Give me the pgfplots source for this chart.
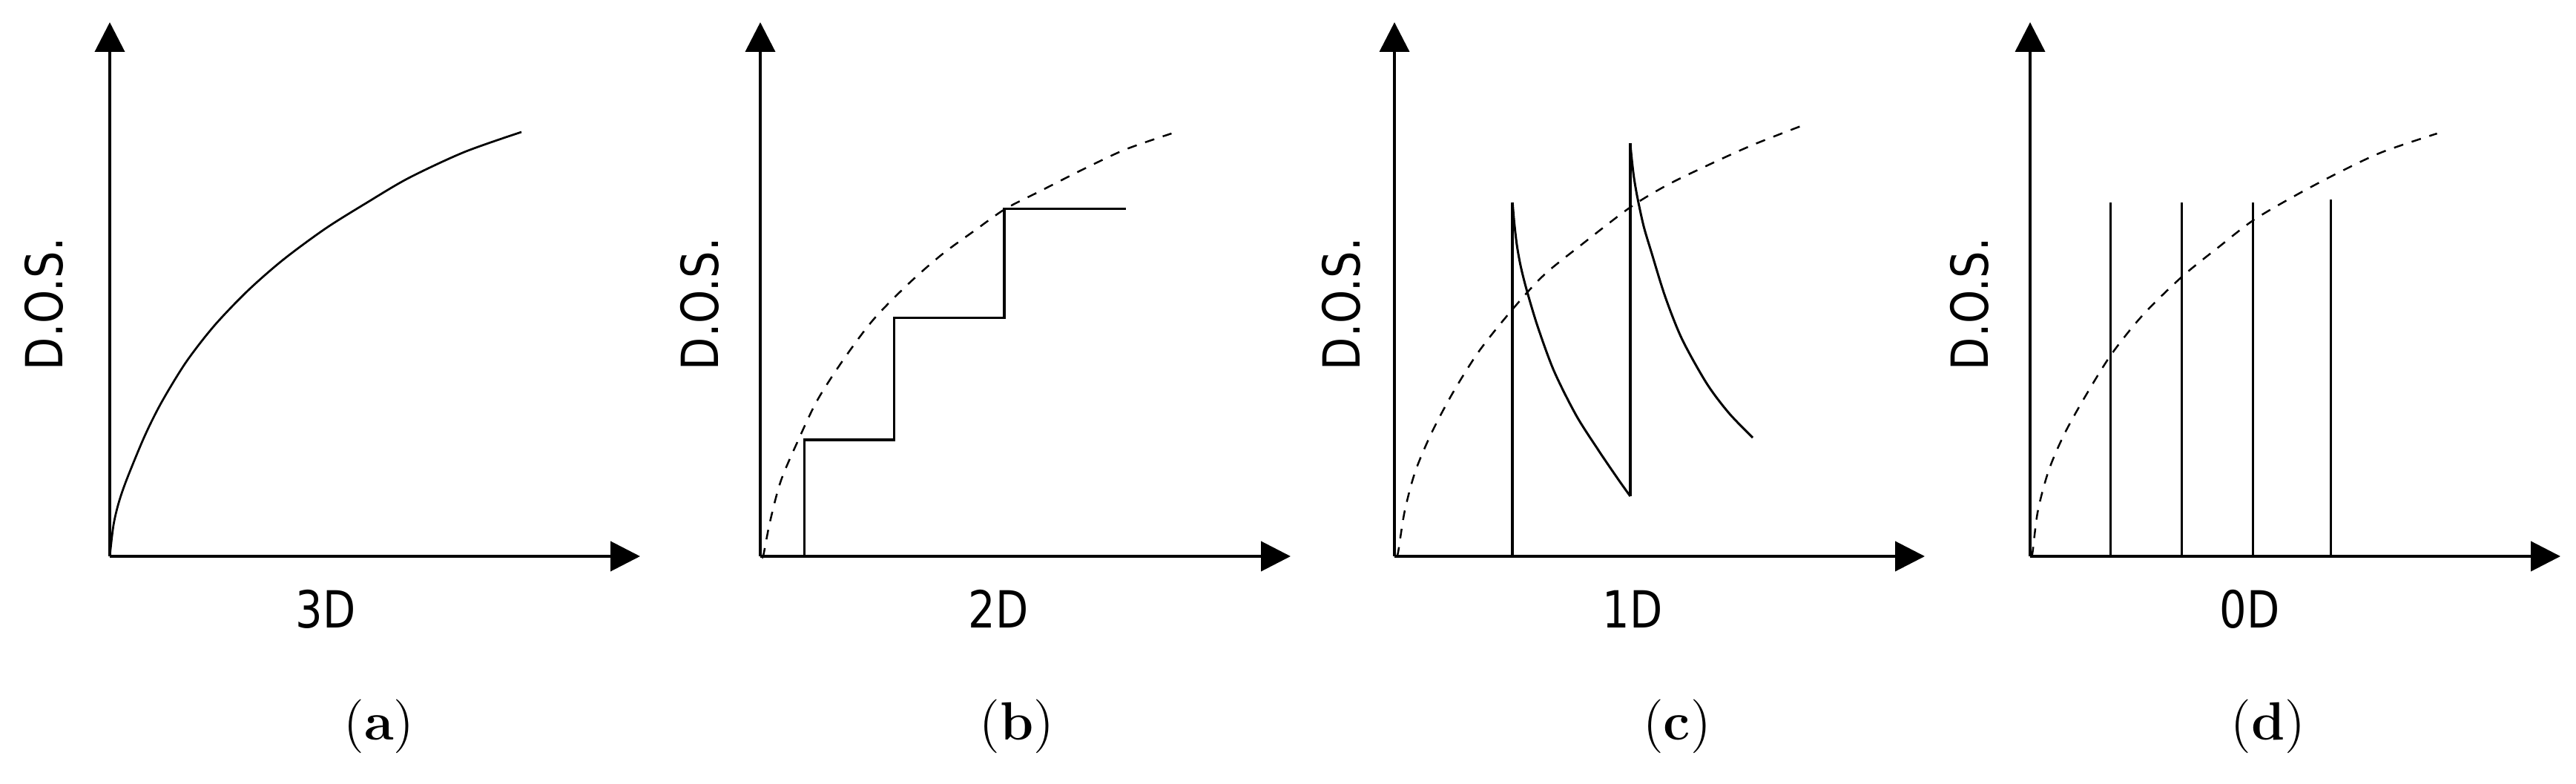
\documentclass[border=0pt]{standalone}
\usepackage{pgfplots}
\pgfplotsset{compat=1.18}
\usetikzlibrary{arrows.meta}
\usepackage{fontspec}
\newfontfamily\dejavu{DejaVu Sans}
\newcommand{\lt}[1]{\scalebox{1}[1.2]{#1}}
\begin{document}
\begin{tikzpicture}
\useasboundingbox (0,0) rectangle (694.6pt,211.2pt);
\pgfplotsset{
  dos/.style={
    x=0.2pt, y=0.2pt, xmin=0, xmax=715, ymin=0, ymax=720,
    axis lines=left, ticks=none, clip=false, anchor=origin,
    axis line style={line width=0.8pt, -{Triangle[length=8pt,width=8pt]}},
  },
}
\tikzset{
  lab/.style={font=\dejavu\fontsize{11.5}{14}\selectfont, inner sep=0pt},
  plab/.style={font=\fontsize{14.5}{17}\selectfont, inner sep=0pt},
  dsh/.style={black, line width=0.5pt, dash pattern=on 2.6pt off 2.4pt, smooth},
}
% (a) 3D
\begin{axis}[dos, at={(29.6pt,61.2pt)}]
\addplot[black, line width=0.55pt, smooth] coordinates {
(0,0)(5,42)(12,72)(23,104)(47,162)(70,208)(103,262)(141,311)
(186,358)(234,400)(291,442)(347,477)(403,510)(478,545)(555,572)};
\node[lab, rotate=90] at (axis cs:-89,340) {\lt{D.O.S.}};
\node[lab] at (axis cs:291,-71) {\lt{3D}};
\node[plab] at (axis cs:363,-229) {({\bfseries a})};
\end{axis}
% (b) 2D
\begin{axis}[dos, at={(205.0pt,61.2pt)}]
\addplot[dsh] coordinates {
(3,0)(4.6,3.4)(13.3,47.4)(27.7,101.6)(50.8,155.7)(76.7,210)(111.3,264)(151.7,318.2)
(197.9,365.6)(244,406.2)(290.2,440)(330.6,468.5)(376.7,492)(434.4,521.3)(492.1,548.4)(554.4,570)};
\addplot[black, line width=0.75pt] coordinates {
(59.5,0)(59.5,157)(180.6,157)(180.6,321.6)(328.9,321.6)(328.9,468.5)(493.3,468.5)};
\node[lab, rotate=90] at (axis cs:-82,340) {\lt{D.O.S.}};
\node[lab] at (axis cs:321,-71) {\lt{2D}};
\node[plab] at (axis cs:346,-229) {({\bfseries b})};
\end{axis}
% (c) 1D
\begin{axis}[dos, at={(376.0pt,61.2pt)}]
\addplot[dsh] coordinates {
(3,0)(5.2,6.8)(13.8,60.9)(28.3,115)(51.3,169)(80.2,223)(114.8,277.6)(159.2,333)
(201.3,379)(253.3,421)(317.9,470.5)(368.6,501)(426.3,529)(484,555)(553.2,582)};
\addplot[black, line width=0.7pt] coordinates {(159.2,0)(159.2,477)};
\addplot[black, line width=0.6pt, smooth] coordinates {
(159.2,477)(161.5,450)(165,420)(170,392)(178,360)(193,310)(215,250)(245,190)(275,143)(301.5,104)(317.9,81)};
\addplot[black, line width=0.7pt] coordinates {(317.9,81)(317.9,556.5)};
\addplot[black, line width=0.6pt, smooth] coordinates {
(317.9,556.5)(320,535)(323,510)(327.7,483)(336,445)(346.4,410)(365,350)(387.6,293)(421,233)(451,193)(483,160)};
\node[lab, rotate=90] at (axis cs:-72,340) {\lt{D.O.S.}};
\node[lab] at (axis cs:321,-71) {\lt{1D}};
\node[plab] at (axis cs:381,-229) {({\bfseries c})};
\end{axis}
% (d) 0D
\begin{axis}[dos, at={(547.4pt,61.2pt)}]
\addplot[dsh] coordinates {
(2,0)(3.5,6.8)(10.4,60.9)(24.8,115)(45,162.5)(71,209.9)(108.5,270.8)(151.7,325)
(204.8,377)(255.6,418)(301.7,453.6)(359.4,487.4)(417.1,517.9)(474.8,545)(548.6,570)};
\addplot[black, line width=0.6pt] coordinates {(108.5,0)(108.5,477.3)};
\addplot[black, line width=0.6pt] coordinates {(204.8,0)(204.8,477.3)};
\addplot[black, line width=0.6pt] coordinates {(300.6,0)(300.6,477.3)};
\addplot[black, line width=0.6pt] coordinates {(405.6,0)(405.6,480.7)};
\node[lab, rotate=90] at (axis cs:-82,340) {\lt{D.O.S.}};
\node[lab] at (axis cs:296,-71) {\lt{0D}};
\node[plab] at (axis cs:321,-229) {({\bfseries d})};
\end{axis}
\end{tikzpicture}
\end{document}
